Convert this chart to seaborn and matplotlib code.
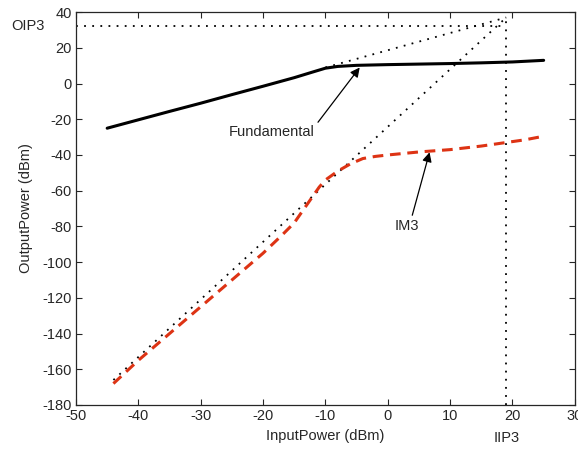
import matplotlib
matplotlib.use("Agg")
import matplotlib.pyplot as plt
import seaborn as sns
import pandas as pd

fund_in = [-45, -40, -35, -30, -25, -20, -15, -12, -10, -8, -5, 0, 5, 10, 15, 20, 25]
fund_out = [-25, -20.3, -15.6, -11, -6.2, -1.5, 3.3, 6.5, 8.6, 9.6, 10.2, 10.6, 10.9, 11.2, 11.6, 12.1, 13.0]

im3_in = [-44, -40, -35, -30, -25, -20, -17, -15, -13, -11, -10, -8, -6, -4, -2, 0, 5, 10, 15, 19, 22, 25]
im3_out = [-168, -155, -140, -125, -110, -95, -85, -78, -68, -58, -54, -49, -45, -42, -40.8, -40, -38.3, -37, -35, -33, -31.5, -29.5]

# extrapolated lines meeting at the intercept point
fund_ext_in = [-10, 19]
fund_ext_out = [9, 37]
im3_ext_in = [-44, 19]
im3_ext_out = [-166, 37]

oip3 = 32.5
iip3 = 19

sns.set_style("ticks")
plt.rcParams["font.family"] = ["Liberation Sans", "DejaVu Sans"]
plt.rcParams["font.size"] = 10.5
plt.rcParams["axes.unicode_minus"] = False

fig = plt.figure(figsize=(5.78, 4.49), dpi=100)
ax = fig.add_axes([0.1315, 0.098, 0.863, 0.875])

dots = (0, (1, 3.5))
ax.plot([-50, iip3], [oip3, oip3], color="black", lw=1.3, linestyle=dots)
ax.plot([iip3, iip3], [-180, 37], color="black", lw=1.3, linestyle=dots)
ax.plot(fund_ext_in, fund_ext_out, color="black", lw=1.3, linestyle=dots)
ax.plot(im3_ext_in, im3_ext_out, color="black", lw=1.3, linestyle=dots)

fund_df = pd.DataFrame({"InputPower": fund_in, "OutputPower": fund_out})
im3_df = pd.DataFrame({"InputPower": im3_in, "OutputPower": im3_out})
sns.lineplot(data=fund_df, x="InputPower", y="OutputPower", ax=ax,
             color="black", lw=2.2, sort=False)
sns.lineplot(data=im3_df, x="InputPower", y="OutputPower", ax=ax,
             color="#dd3314", lw=2.2, linestyle=(0, (3.5, 2.2)), sort=False)

ax.annotate("Fundamental", xy=(-4.5, 9), xytext=(-18.6, -27.2),
            ha="center", va="center", fontsize=10.5,
            arrowprops=dict(arrowstyle="-|>", color="black", lw=0.9,
                            relpos=(1.0, 0.9), shrinkA=0, shrinkB=0,
                            mutation_scale=14))
ax.annotate("IM3", xy=(6.7, -38.5), xytext=(3.0, -79.5),
            ha="center", va="center", fontsize=10.5,
            arrowprops=dict(arrowstyle="-|>", color="black", lw=0.9,
                            relpos=(0.7, 1.0), shrinkA=0, shrinkB=0,
                            mutation_scale=14))

ax.text(-57.7, oip3, "OIP3", ha="center", va="center", fontsize=10.5, clip_on=False)
ax.text(iip3, -198.7, "IIP3", ha="center", va="center", fontsize=10.5, clip_on=False)

ax.set_xlim(-50, 30)
ax.set_ylim(-180, 40)
ax.set_xticks(range(-50, 31, 10))
ax.set_yticks(range(-180, 41, 20))
ax.set_xlabel("InputPower (dBm)", labelpad=4)
ax.set_ylabel("OutputPower (dBm)", labelpad=7)
ax.tick_params(direction="in", top=True, right=True, length=4, width=0.8, pad=3)
for s in ax.spines.values():
    s.set_linewidth(0.9)

fig.savefig("out.png", dpi=100)
